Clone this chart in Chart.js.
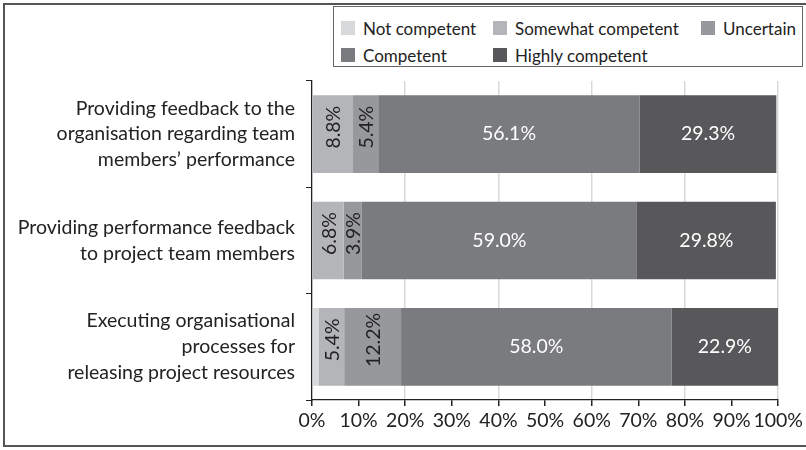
<!DOCTYPE html>
<html>
<head>
<meta charset="utf-8">
<script src="https://cdn.jsdelivr.net/npm/chart.js@4"></script>
<style>
  html, body { margin: 0; padding: 0; background: #fff; overflow: hidden; }
  #wrap { position: relative; width: 806px; height: 450px; }
  #frame { position: absolute; left: 3px; top: 3px; width: 830px; height: 444px; border: 2px solid #555; box-sizing: border-box; pointer-events: none; }
  #legend { position: absolute; left: 333px; top: 6px; width: 470px; height: 61px; border: 1.5px solid #666; box-sizing: border-box; background: #fff;
            font-family: Lato, "Open Sans", sans-serif; font-size: 17px; color: #222; }
  .item { position: absolute; display: flex; align-items: center; height: 20px; white-space: nowrap; }
  .sw { width: 14px; height: 14px; margin-right: 8px; flex: none; }
  canvas { position: absolute; left: 0; top: 0; }
</style>
</head>
<body>
<div id="wrap">
  <canvas id="c" width="806" height="450"></canvas>
  <div id="legend"></div>
  <div id="frame"></div>
</div>
<script>
const categories = [
  ["Providing feedback to the", "organisation regarding team", "members\u2019 performance"],
  ["Providing performance feedback", "to project team members"],
  ["Executing organisational", "processes for", "releasing project resources"]
];
const seriesNames = ["Not competent", "Somewhat competent", "Uncertain", "Competent", "Highly competent"];
const notCompetent = [0, 0, 1.5];
const somewhatCompetent = [8.8, 6.8, 5.4];
const uncertain = [5.4, 3.9, 12.2];
const competent = [56.1, 59.0, 58.0];
const highlyCompetent = [29.3, 29.8, 22.9];
const xTicks = [0, 10, 20, 30, 40, 50, 60, 70, 80, 90, 100];

const colors = ["#d8d9db", "#b4b5b8", "#97989b", "#7a7b7f", "#58585b"];
const seriesData = [notCompetent, somewhatCompetent, uncertain, competent, highlyCompetent];
const FONT = 'Lato, "Open Sans", sans-serif';

// HTML legend (real text) built from series names
const legendPos = [[7, 11], [159, 11], [367, 11], [7, 38], [159, 38]];
const legend = document.getElementById('legend');
seriesNames.forEach((n, i) => {
  const it = document.createElement('div');
  it.className = 'item';
  it.style.left = legendPos[i][0] + 'px';
  it.style.top = legendPos[i][1] + 'px';
  const sw = document.createElement('span');
  sw.className = 'sw';
  sw.style.background = colors[i];
  const t = document.createElement('span');
  t.textContent = n;
  it.appendChild(sw); it.appendChild(t);
  legend.appendChild(it);
});

const labelPlugin = {
  id: 'barLabels',
  afterDatasetsDraw(chart) {
    const ctx = chart.ctx;
    chart.data.datasets.forEach((ds, i) => {
      const meta = chart.getDatasetMeta(i);
      meta.data.forEach((bar, j) => {
        const v = ds.data[j];
        if (!v || v < 2) return;
        const cx = (bar.x + bar.base) / 2;
        const cy = bar.y;
        const txt = v.toFixed(1) + '%';
        ctx.save();
        ctx.font = '19.5px ' + FONT;
        ctx.textAlign = 'center';
        ctx.textBaseline = 'middle';
        if (i === 1 || i === 2) {
          ctx.fillStyle = '#222';
          ctx.translate(cx + 1, cy - 7);
          ctx.rotate(-Math.PI / 2);
          ctx.fillText(txt, 0, 0);
        } else {
          ctx.fillStyle = '#fff';
          ctx.fillText(txt, cx, cy);
        }
        ctx.restore();
      });
    });
  }
};

new Chart(document.getElementById('c'), {
  type: 'bar',
  data: {
    labels: categories,
    datasets: seriesNames.map((n, i) => ({
      label: n,
      data: seriesData[i],
      backgroundColor: colors[i],
      borderWidth: 0,
      barPercentage: 0.73,
      categoryPercentage: 1.0
    }))
  },
  options: {
    indexAxis: 'y',
    responsive: false,
    animation: false,
    devicePixelRatio: 1,
    layout: { padding: { left: 0, right: 25, top: 81, bottom: 0 } },
    plugins: { legend: { display: false }, tooltip: { enabled: false } },
    scales: {
      x: {
        stacked: true,
        min: 0, max: 100,
        afterBuildTicks(scale) { scale.ticks = xTicks.map(v => ({ value: v })); },
        afterFit(scale) { scale.height = 48; },
        border: { display: true, color: '#222', width: 1.3 },
        grid: {
          color: ctx => (ctx.tick && ctx.tick.value > 0 && ctx.tick.value % 20 === 0) ? '#d9d9d9' : 'rgba(0,0,0,0)',
          lineWidth: 1.5,
          tickColor: '#222',
          tickLength: 6,
          drawOnChartArea: true
        },
        ticks: {
          callback: v => v + '%',
          color: '#222',
          font: { family: FONT, size: 19.5 },
          padding: 3,
          maxRotation: 0,
          autoSkip: false
        }
      },
      y: {
        stacked: true,
        afterFit(scale) { scale.width = 312; },
        border: { display: true, color: '#222', width: 1.3 },
        grid: {
          offset: true,
          drawOnChartArea: false,
          tickColor: '#222',
          tickLength: 6
        },
        ticks: {
          color: '#222',
          font: { family: FONT, size: 19.5, lineHeight: 1.33 },
          padding: 11
        }
      }
    }
  },
  plugins: [labelPlugin]
});
</script>
</body>
</html>
